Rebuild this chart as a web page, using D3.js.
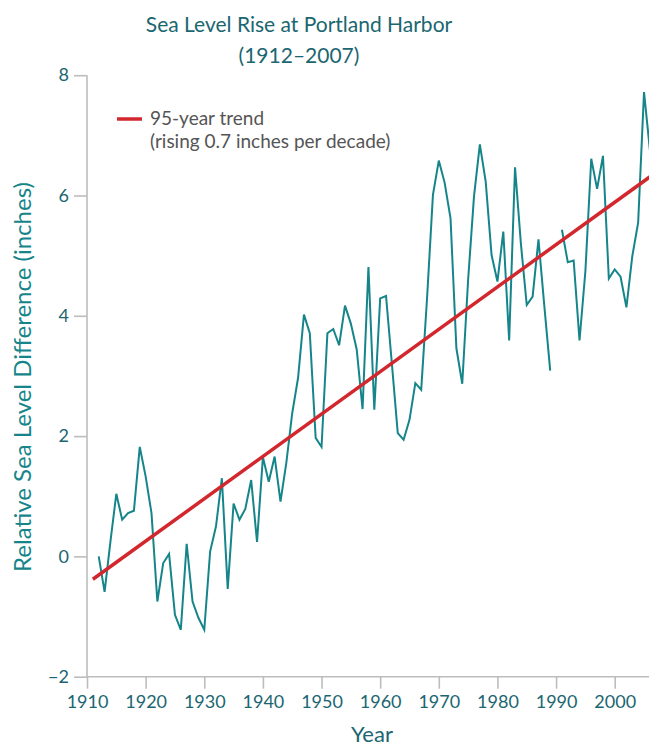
<!DOCTYPE html>
<html>
<head>
	<meta charset="utf-8">
	<title>Sea Level Rise at Portland Harbor</title>
	<style>
	body { margin: 0; background: #fff; }
	svg { display: block; font-family: Lato, 'Open Sans', sans-serif; }
	</style>
	<script type="text/javascript" src="https://cdn.jsdelivr.net/npm/d3@7/dist/d3.min.js"></script>
</head>
<body>
	<script type="text/javascript">

		// Data Set
		let years = d3.range(1912, 2008);
		let seaLevel = [0.00, -0.59, 0.25, 1.04, 0.61, 0.72, 0.76, 1.82, 1.33, 0.72,
						-0.75, -0.11, 0.04, -0.97, -1.22, 0.21, -0.75, -1.02, -1.22, 0.08,
						0.50, 1.30, -0.54, 0.88, 0.61, 0.79, 1.27, 0.24, 1.65, 1.24,
						1.66, 0.91, 1.56, 2.38, 2.97, 4.02, 3.71, 1.97, 1.82, 3.71,
						3.78, 3.51, 4.17, 3.87, 3.44, 2.45, 4.81, 2.44, 4.29, 4.33,
						3.20, 2.05, 1.94, 2.27, 2.88, 2.77, 4.30, 6.01, 6.58, 6.21,
						5.62, 3.46, 2.87, 4.60, 5.98, 6.85, 6.23, 5.01, 4.57, 5.40,
						3.59, 6.47, 5.20, 4.18, 4.32, 5.27, 4.16, 3.09, null, 5.43,
						4.89, 4.92, 3.59, 4.74, 6.61, 6.11, 6.66, 4.62, 4.77, 4.65,
						4.14, 4.99, 5.55, 7.72, 6.76, 6.40];
		let trendYears = [1911, 2007];
		let trendValues = [-0.38, 6.38];
		let xTicks = [1910, 1920, 1930, 1940, 1950, 1960, 1970, 1980, 1990, 2000];
		let yTicks = [-2, 0, 2, 4, 6, 8];

		let wsvg = 649, hsvg = 749;
		let teal = '#15858a', titleColor = '#1b6670', red = '#d3272e', axisGray = '#bdbdbd';

		let svg = d3.select('body').append('svg')
					.attr('width', wsvg)
					.attr('height', hsvg);

		let xScale = d3.scaleLinear().domain([1910, 2000]).range([87, 614.7]);
		let yScale = d3.scaleLinear().domain([-2, 8]).range([676.7, 75.2]);

		// 標題
		let title = svg.append('text')
					.attr('x', 299).attr('y', 32)
					.attr('text-anchor', 'middle')
					.style('font-size', '21px')
					.style('fill', titleColor);
		title.append('tspan').attr('x', 299).text('Sea Level Rise at Portland Harbor');
		title.append('tspan').attr('x', 299).attr('dy', 31).text('(1912–2007)');

		// Y軸
		let yAxis = svg.append('g')
					.attr('transform', 'translate(' + xScale(1910) + ',0)')
					.call(d3.axisLeft(yScale).tickValues(yTicks).tickSize(13).tickPadding(5)
						.tickFormat(function(d) { return d < 0 ? '−' + Math.abs(d) : d; }));

		// X軸 (延伸到右邊界)
		let xAxis = svg.append('g')
					.attr('transform', 'translate(0,' + yScale(-2) + ')')
					.call(d3.axisBottom(xScale).tickValues(xTicks).tickSize(12).tickPadding(7).tickFormat(d3.format('d')));
		xAxis.select('path.domain').attr('d', 'M' + xScale(1910) + ',0H' + wsvg);
		yAxis.select('path.domain').attr('d', 'M0,' + yScale(8) + 'V' + yScale(-2));

		svg.selectAll('.domain, .tick line')
			.attr('stroke', axisGray)
			.attr('stroke-width', 1.6);
		svg.selectAll('.tick text')
			.style('font-family', 'Lato, sans-serif')
			.style('font-size', '18px')
			.attr('fill', titleColor);

		// 軸標題
		svg.append('text')
			.attr('transform', 'translate(31,' + 377 + ') rotate(-90)')
			.attr('text-anchor', 'middle')
			.style('font-size', '24px')
			.style('fill', teal)
			.text('Relative Sea Level Difference (inches)');

		svg.append('text')
			.attr('x', 372).attr('y', 742)
			.attr('text-anchor', 'middle')
			.style('font-size', '22px')
			.style('fill', titleColor)
			.text('Year');

		// 海平面折線 (1990 缺值)
		let seaLine = d3.line()
			.defined(function(d) { return d != null; })
			.x(function(d, i) { return xScale(years[i]); })
			.y(function(d) { return yScale(d); });

		svg.append('path')
			.datum(seaLevel)
			.attr('d', seaLine)
			.attr('fill', 'none')
			.attr('stroke', teal)
			.attr('stroke-width', 2)
			.attr('stroke-linejoin', 'miter');

		// 趨勢線
		let trendLine = d3.line()
			.x(function(d, i) { return xScale(trendYears[i]); })
			.y(function(d) { return yScale(d); });

		svg.append('path')
			.datum(trendValues)
			.attr('d', trendLine)
			.attr('fill', 'none')
			.attr('stroke', red)
			.attr('stroke-width', 3.5);

		// 圖例
		svg.append('line')
			.attr('x1', 117).attr('x2', 142)
			.attr('y1', 119).attr('y2', 119)
			.attr('stroke', red)
			.attr('stroke-width', 3.5);
		let legend = svg.append('text')
					.attr('x', 150).attr('y', 125)
					.style('font-size', '19px')
					.style('fill', '#555');
		legend.append('tspan').attr('x', 150).text('95-year trend');
		legend.append('tspan').attr('x', 150).attr('dy', 23).text('(rising 0.7 inches per decade)');

	</script>
</body>
</html>
